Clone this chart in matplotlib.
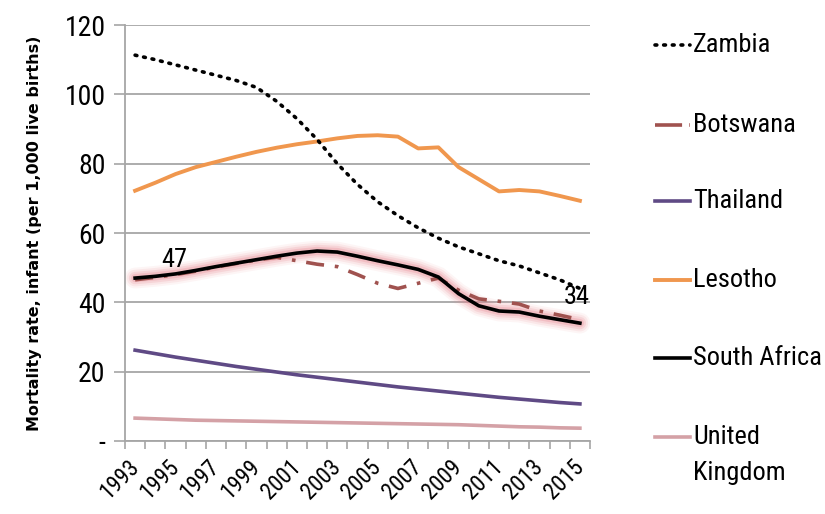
import numpy as np
import matplotlib
matplotlib.use("Agg")
import matplotlib.pyplot as plt
from matplotlib.lines import Line2D
from matplotlib.ticker import FixedLocator, FuncFormatter

# infant mortality, per 1,000 live births
years = list(range(1993, 2016))
zambia = [111.3, 110.0, 108.5, 107.0, 105.5, 104.0, 102.0, 98.0, 93.0, 87.0, 80.0, 74.0,
          69.0, 65.0, 61.5, 58.5, 56.0, 54.0, 52.0, 50.5, 48.5, 46.5, 44.0]
botswana = [46.5, 47.2, 48.0, 49.0, 50.2, 51.2, 52.2, 53.0, 52.0, 51.0, 50.3, 48.0,
            45.5, 44.0, 45.5, 47.0, 43.5, 41.0, 40.3, 39.5, 37.5, 36.3, 35.0]
thailand = [26.2, 25.2, 24.2, 23.3, 22.4, 21.5, 20.7, 19.9, 19.1, 18.4, 17.7, 17.0,
            16.3, 15.6, 15.0, 14.4, 13.8, 13.2, 12.6, 12.1, 11.6, 11.1, 10.7]
lesotho = [72.2, 74.5, 77.0, 79.0, 80.5, 82.0, 83.4, 84.6, 85.6, 86.4, 87.3, 88.0,
           88.2, 87.8, 84.4, 84.7, 79.0, 75.5, 72.0, 72.4, 72.0, 70.7, 69.3]
south_africa = [47.0, 47.5, 48.2, 49.2, 50.3, 51.3, 52.3, 53.3, 54.2, 54.8, 54.5, 53.3,
                52.0, 50.8, 49.5, 47.3, 42.5, 39.0, 37.5, 37.2, 36.0, 35.0, 34.0]
uk = [6.6, 6.4, 6.2, 6.0, 5.9, 5.8, 5.7, 5.6, 5.5, 5.4, 5.3, 5.2,
      5.1, 5.0, 4.9, 4.8, 4.7, 4.5, 4.3, 4.1, 4.0, 3.8, 3.7]

narrow = ['Liberation Sans Narrow', 'Roboto Condensed', 'DejaVu Sans']
W, H = 825, 514

fig = plt.figure(figsize=(W / 100, H / 100), dpi=100)
ax = fig.add_axes([125 / W, 1 - 441 / H, 465 / W, 416 / H])

x = np.arange(len(years))
grey = '#a6a6a6'

styles = [
    ('Zambia', zambia, dict(color='black', lw=2.6, linestyle=(0, (0.5, 1.9)),
                            dash_capstyle='round', zorder=4)),
    ('Botswana', botswana, dict(color='#a0524f', lw=2.6, linestyle=(0, (5, 3, 1, 3)), zorder=3)),
    ('Thailand', thailand, dict(color='#5f4a85', lw=2.6, zorder=3)),
    ('Lesotho', lesotho, dict(color='#f0974e', lw=2.8, zorder=3)),
    ('South Africa', south_africa, dict(color='black', lw=2.6, zorder=3.5)),
    ('United\nKingdom', uk, dict(color='#d4a1a6', lw=2.6, zorder=3)),
]

# soft pink halo behind South Africa
for w, a in [(15, 0.08), (12, 0.12), (9, 0.18), (6, 0.26)]:
    ax.plot(x, south_africa, color='#e8828c', lw=w, alpha=a,
            solid_capstyle='round', zorder=2)

for name, vals, kw in styles:
    ax.plot(x, vals, **kw)

ax.annotate('47', (x[0], south_africa[0]), xytext=(28, 13), textcoords='offset points',
            ha='center', va='center', fontsize=19, family=narrow)
ax.annotate('34', (x[-1], south_africa[-1]), xytext=(-2, 19), textcoords='offset points',
            ha='center', va='center', fontsize=19, family=narrow)

ax.set_xlim(-0.5, len(years) - 0.5)
ax.set_ylim(0, 120)
ax.set_yticks(range(0, 121, 20))
ax.yaxis.set_major_formatter(FuncFormatter(lambda v, p: '-' if v == 0 else f'{v:.0f}'))
ax.grid(axis='y', color=grey, lw=1.3)
ax.set_axisbelow(True)

ax.xaxis.set_major_locator(FixedLocator(x[::2]))
ax.set_xticklabels([str(y) for y in years[::2]], rotation=45, ha='right',
                   rotation_mode='anchor', va='center')
ax.xaxis.set_minor_locator(FixedLocator(np.arange(-0.5, len(years), 1)))
ax.tick_params(axis='x', which='major', length=0, pad=16)
ax.tick_params(axis='x', which='minor', length=6, width=1.2, color=grey)
ax.tick_params(axis='y', length=8, width=1.2, color=grey, pad=6)
for lab in ax.get_xticklabels() + ax.get_yticklabels():
    lab.set_family(narrow)
for lab in ax.get_xticklabels():
    lab.set_fontsize(16.5)
for lab in ax.get_yticklabels():
    lab.set_fontsize(20)

for s in ['top', 'right']:
    ax.spines[s].set_visible(False)
for s in ['left', 'bottom']:
    ax.spines[s].set_color(grey)
    ax.spines[s].set_linewidth(1.3)

ax.set_ylabel('Mortality rate, infant (per 1,000 live births)', fontsize=11.5,
              fontweight='bold', family='DejaVu Sans')
ax.yaxis.set_label_coords(-0.178, 0.5)

# legend down the right-hand side
legend_y = [45, 125, 201, 280, 358, 437]
for (name, vals, kw), py in zip(styles, legend_y):
    hkw = {k: v for k, v in kw.items() if k != 'zorder'}
    if name == 'Botswana':
        hkw['linestyle'] = (0, (7.5, 2, 0.6, 2))
    fig.add_artist(Line2D([655 / W, 690 / W], [1 - py / H] * 2, **hkw))
    fig.text(693 / W, 1 - (py - 12) / H, name, ha='left', va='top', fontsize=19,
             family=narrow, linespacing=1.65)

fig.savefig('out.png', dpi=100)
